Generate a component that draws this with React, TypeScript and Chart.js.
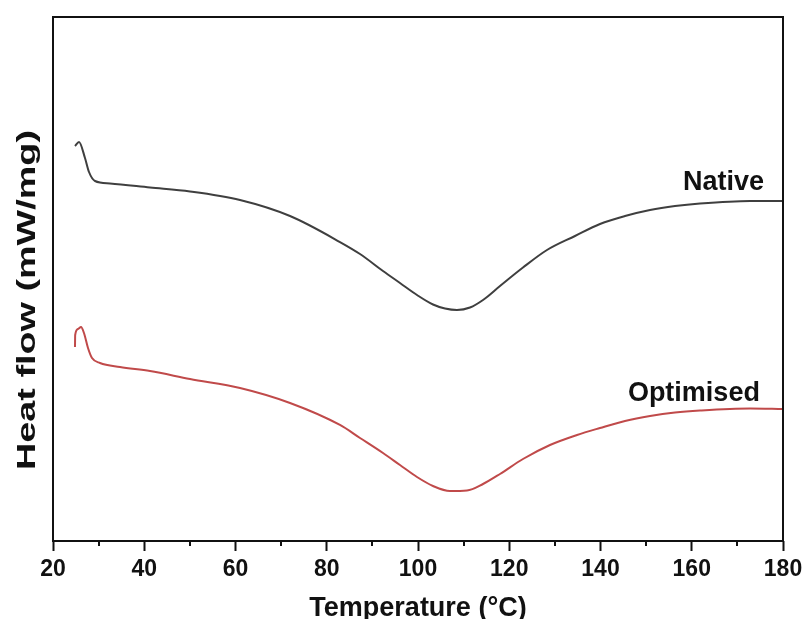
import React, { useEffect, useRef } from 'react';
import { Chart, registerables } from 'chart.js';

Chart.register(...registerables);

// Temperature (°C) and heat flow (arbitrary units)
const nativeTemp = [24.82, 25.7, 27.01, 27.89, 29.21, 32.49, 41.26, 50.03, 60.99, 71.95, 82.9, 87.29, 92.33, 96.05, 99.78, 103.29, 105.92, 108.55, 111.4, 114.25, 117.97, 123.01, 128.27, 134.41, 139.89, 145.37, 150.85, 156.33, 161.81, 172.77, 180];
const nativeFlow = [75.38, 76.15, 73.09, 70.42, 68.7, 68.23, 67.46, 66.7, 65.08, 62.02, 57.06, 54.77, 51.53, 49.24, 46.95, 45.13, 44.37, 44.08, 44.56, 45.99, 48.66, 52.19, 55.53, 58.21, 60.5, 62.02, 63.17, 63.93, 64.41, 64.89, 64.89];

const optTemp = [24.82, 24.86, 25.48, 26.14, 26.79, 27.67, 28.55, 30.3, 34.68, 41.26, 50.03, 60.99, 71.95, 82.9, 87.29, 92.33, 96.05, 99.78, 103.29, 107.01, 110.74, 114.25, 117.97, 123.01, 128.93, 134.85, 139.89, 145.37, 150.85, 156.33, 161.81, 172.77, 180];
const optFlow = [37.02, 39.31, 40.46, 40.84, 39.69, 36.83, 34.92, 33.97, 33.21, 32.44, 30.92, 29.2, 26.34, 22.14, 19.66, 16.79, 14.5, 12.21, 10.5, 9.54, 9.64, 10.88, 12.79, 15.65, 18.32, 20.23, 21.56, 22.9, 23.85, 24.52, 24.9, 25.29, 25.19];

const seriesNames = ['Native', 'Optimised'];
const xMajorTicks = [20, 40, 60, 80, 100, 120, 140, 160, 180];
const xMinorTicks = [30, 50, 70, 90, 110, 130, 150, 170];
const xTitle = 'Temperature (°C)';
const yTitle = 'Heat flow (mW/mg)';
// label anchors (temperature, heat flow) for the series names
const nativeLabelAt = [158.1, 66.98];
const optLabelAt = [146.0, 26.72];

const FONT = '"Liberation Sans", Arial, sans-serif';

export default function App() {
  const ref = useRef<HTMLCanvasElement>(null);

  useEffect(() => {
    document.body.style.margin = '0';
    const canvas = ref.current;
    if (!canvas) return;

    const decorPlugin = {
      id: 'decor',
      afterDraw(chart: any) {
        const { ctx, chartArea } = chart;
        const xs = chart.scales.x;
        const ys = chart.scales.y;
        ctx.save();
        // frame
        ctx.strokeStyle = '#111';
        ctx.lineWidth = 2;
        ctx.strokeRect(chartArea.left, chartArea.top, chartArea.right - chartArea.left, chartArea.bottom - chartArea.top);
        // minor ticks
        ctx.lineWidth = 2;
        xMinorTicks.forEach((v) => {
          const px = Math.round(xs.getPixelForValue(v));
          ctx.beginPath();
          ctx.moveTo(px, chartArea.bottom);
          ctx.lineTo(px, chartArea.bottom + 5);
          ctx.stroke();
        });
        // series labels
        ctx.fillStyle = '#111';
        ctx.font = `bold 27px ${FONT}`;
        ctx.textAlign = 'left';
        ctx.textBaseline = 'alphabetic';
        ctx.fillText(seriesNames[0], xs.getPixelForValue(nativeLabelAt[0]), ys.getPixelForValue(nativeLabelAt[1]));
        ctx.fillText(seriesNames[1], xs.getPixelForValue(optLabelAt[0]), ys.getPixelForValue(optLabelAt[1]));
        // y title (stretched along its length like the reference)
        ctx.font = `bold 26px ${FONT}`;
        const w = ctx.measureText(yTitle).width;
        const target = 340;
        ctx.translate(28, 300);
        ctx.rotate(-Math.PI / 2);
        ctx.scale(target / w, 1);
        ctx.textAlign = 'center';
        ctx.textBaseline = 'middle';
        ctx.fillText(yTitle, 0, 0);
        ctx.restore();
      },
    };

    const chart = new Chart(canvas, {
      type: 'line',
      data: {
        datasets: [
          {
            label: seriesNames[0],
            data: nativeTemp.map((t, i) => ({ x: t, y: nativeFlow[i] })),
            borderColor: '#3f3f3f',
            borderWidth: 2,
            pointRadius: 0,
            cubicInterpolationMode: 'monotone',
            fill: false,
          },
          {
            label: seriesNames[1],
            data: optTemp.map((t, i) => ({ x: t, y: optFlow[i] })),
            borderColor: '#c04a4a',
            borderWidth: 2,
            pointRadius: 0,
            cubicInterpolationMode: 'monotone',
            fill: false,
          },
        ],
      },
      options: {
        animation: false,
        responsive: false,
        maintainAspectRatio: false,
        layout: { padding: { left: 53, top: 17, right: 20, bottom: 0 } },
        plugins: { legend: { display: false }, tooltip: { enabled: false } },
        scales: {
          x: {
            type: 'linear',
            min: 20,
            max: 180,
            afterBuildTicks: (s: any) => {
              s.ticks = xMajorTicks.map((v) => ({ value: v }));
            },
            afterFit: (s: any) => {
              s.height = 78;
              s.paddingLeft = 0;
              s.paddingRight = 0;
            },
            border: { display: false },
            grid: {
              drawOnChartArea: false,
              drawTicks: true,
              tickLength: 10,
              tickWidth: 2,
              tickColor: '#111',
            },
            ticks: {
              color: '#111',
              font: { family: FONT, size: 23, weight: 'bold' },
              padding: 5,
              maxRotation: 0,
              autoSkip: false,
            },
            title: {
              display: true,
              text: xTitle,
              color: '#111',
              font: { family: FONT, size: 27, weight: 'bold', lineHeight: 0.8 },
              padding: { top: 0, bottom: 0 },
            },
          },
          y: {
            type: 'linear',
            min: 0,
            max: 100,
            display: false,
          },
        },
      },
      plugins: [decorPlugin],
    });
    return () => chart.destroy();
  }, []);

  return <canvas ref={ref} width={803} height={619} style={{ display: 'block' }} />;
}
